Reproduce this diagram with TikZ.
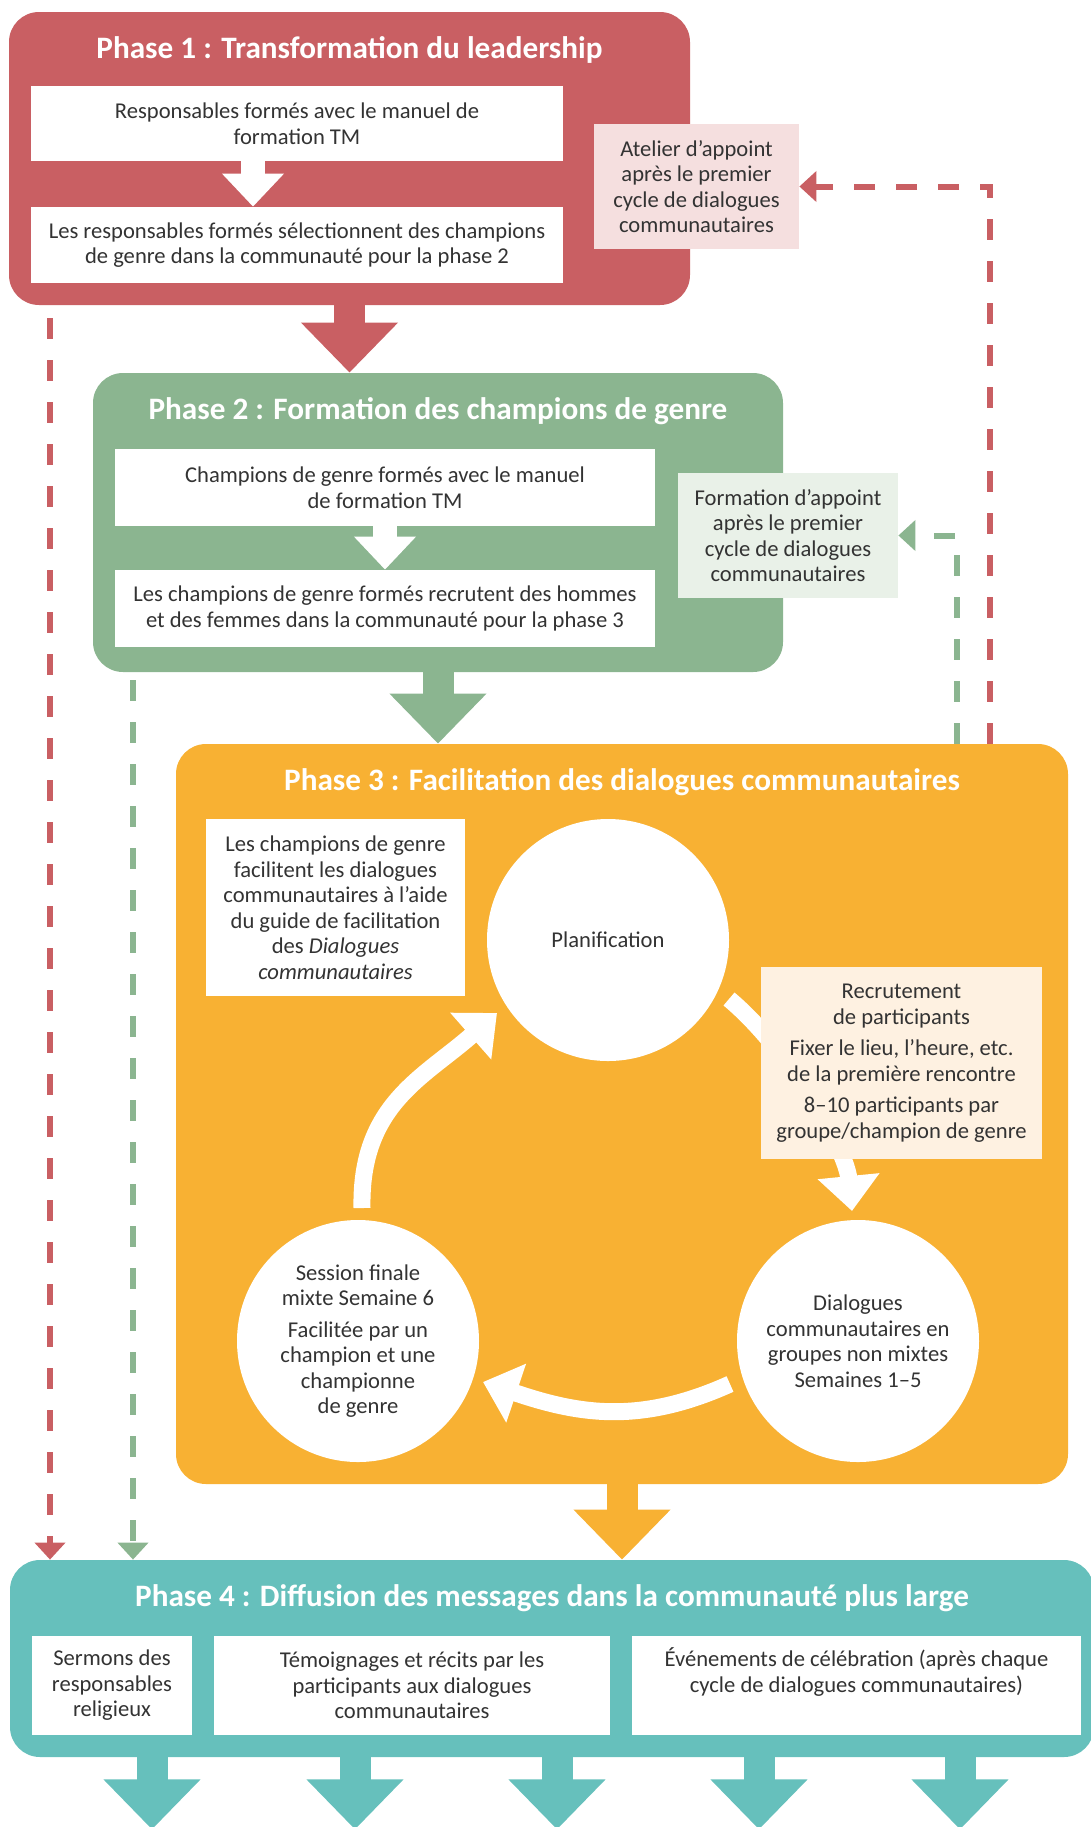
\documentclass[tikz,border=0pt]{standalone}
\usepackage{fontspec}
\setmainfont{Carlito}
\usetikzlibrary{arrows.meta}
\usetikzlibrary{positioning}
\definecolor{phaseRed}{HTML}{C95F63}
\definecolor{phaseGreen}{HTML}{8BB590}
\definecolor{phaseOrange}{HTML}{F8B133}
\definecolor{phaseTeal}{HTML}{66C0BC}
\definecolor{pinkL}{HTML}{F5DFDF}
\definecolor{greenL}{HTML}{E9F1E8}
\definecolor{creamL}{HTML}{FEF1E1}
\definecolor{txtGray}{HTML}{333333}
\tikzset{phase/.style = {rounded corners=15pt, inner sep=0pt}}
\tikzset{phtitle/.style = {text=white, font=\bfseries\fontsize{15.6}{18}\selectfont}}
\tikzset{wbox/.style = {fill=white, inner sep=0pt, align=center, text=txtGray,
                        font=\fontsize{11.3}{12.75}\selectfont}}
\tikzset{p4box/.style = {wbox, minimum height=49.5pt}}
\tikzset{disc/.style = {wbox, circle, minimum size=121pt}}
\tikzset{bigarrow/.style = {line width=15.5pt, -{Triangle[length=25pt, width=47pt]}}}
\tikzset{smallarrow/.style = {white, line width=12pt, -{Triangle[length=16.5pt, width=30pt]}}}
\tikzset{dasharrow/.style = {line width=3pt, dash pattern=on 10.5pt off 10.5pt,
                             -{Triangle[length=8.5pt, width=15pt]}}}
\tikzset{cyclearrow/.style = {white, line width=8.5pt, -{Triangle[length=17.5pt, width=30pt]}}}

\begin{document}
\begin{tikzpicture}[x=0.5pt, y=-0.5pt]
    \clip (0,0) rectangle (1091,1827);
    % phase 1
    \node [phase, fill=phaseRed, minimum width=340.5pt, minimum height=146.5pt] (ph1) at (349.5,158.5) {};
    \node [phtitle, anchor=base] (ph1title) at ([yshift=-23.5pt]ph1.north) {Phase 1 : Transformation du leadership};
    \node [wbox, minimum width=266pt, minimum height=37.5pt] (lead1) at (297,123.5)
        {Responsables formés avec le manuel de\\formation TM};
    \node [wbox, minimum width=266pt, minimum height=38pt] (lead2) at (297,245)
        {Les responsables formés sélectionnent des champions\\de genre dans la communauté pour la phase 2};
    \node [wbox, fill=pinkL, minimum width=102.5pt, minimum height=62.5pt] (atelier) at (696.5,186.5)
        {Atelier d'appoint\\après le premier\\cycle de dialogues\\communautaires};
    \draw [smallarrow] ([xshift=-22pt]lead1.south) -- ([xshift=-22pt]lead2.north);
    % phase 2
    \node [phase, fill=phaseGreen, minimum width=345pt, minimum height=149.5pt] (ph2) at (438,522.5) {};
    \node [phtitle, anchor=base] (ph2title) at ([yshift=-23.5pt]ph2.north) {Phase 2 : Formation des champions de genre};
    \node [wbox, minimum width=270pt, minimum height=38.5pt] (champ1) at (385,487.5)
        {Champions de genre formés avec le manuel\\de formation TM};
    \node [wbox, minimum width=270pt, minimum height=38.5pt] (champ2) at (385,608.5)
        {Les champions de genre formés recrutent des hommes\\et des femmes dans la communauté pour la phase 3};
    \node [wbox, fill=greenL, minimum width=110pt, minimum height=62.5pt] (formation) at (788,535.5)
        {Formation d'appoint\\après le premier\\cycle de dialogues\\communautaires};
    \draw [smallarrow] (champ1.south) -- (champ2.north);
    % phase 3
    \node [phase, fill=phaseOrange, minimum width=446pt, minimum height=370pt] (ph3) at (622,1114) {};
    \node [phtitle, anchor=base] (ph3title) at ([yshift=-23.5pt]ph3.north) {Phase 3 : Facilitation des dialogues communautaires};
    \node [wbox, minimum width=129.5pt, minimum height=88.5pt] (guide) at (335.5,907.5)
        {Les champions de genre\\facilitent les dialogues\\communautaires à l'aide\\du guide de facilitation\\des \textit{Dialogues}\\\textit{communautaires}};
    \coordinate (s1) at (362,1208);
    \coordinate (p1) at (497,1013);
    \coordinate (p2) at (729,999);
    \coordinate (d1) at (852,1211);
    \coordinate (d2) at (730,1384);
    \coordinate (s2) at (483,1382);
    \draw [cyclearrow] (s1) .. controls (360,1105) and (423,1078) .. (p1);
    \draw [cyclearrow] (p2) .. controls (790,1050) and (846,1150) .. (d1);
    \draw [cyclearrow] (d2) .. controls (639,1425) and (578,1414) .. (s2);
    \node [disc] (plan) at (608,940) {Planification};
    \node [disc] (dialog) at (858,1341) {Dialogues\\communautaires en\\groupes non mixtes\\Semaines 1–5};
    \node [disc] (session) at (358,1341)
        {Session finale\\mixte Semaine 6\\[3pt]Facilitée par un\\champion et une\\championne\\de genre};
    \node [wbox, fill=creamL, minimum width=140.5pt, minimum height=96pt] (recrut) at (901.5,1063)
        {Recrutement\\de participants\\[3pt]Fixer le lieu, l'heure, etc.\\de la première rencontre\\[3pt]8–10 participants par\\groupe/champion de genre};
    % phase 4
    \node [phase, fill=phaseTeal, minimum width=542pt, minimum height=98.5pt] (ph4) at (552,1658.5) {};
    \node [phtitle, anchor=base] (ph4title) at ([yshift=-23.5pt]ph4.north) {Phase 4 : Diffusion des messages dans la communauté plus large};
    \node [p4box, minimum width=80pt] (sermon) at (112,1685.5) {Sermons des\\responsables\\religieux};
    \node [p4box, minimum width=198pt] (temoin) at (412,1685.5)
        {Témoignages et récits par les\\participants aux dialogues\\communautaires};
    \node [p4box, minimum width=224.5pt, text depth=15.4pt] (fete) at (856.5,1685.5)
        {Événements de célébration (après chaque\\cycle de dialogues communautaires)};
    % block arrows between phases
    \draw [bigarrow, phaseRed] (ph1.south) -- (ph1.south |- ph2.north);
    \draw [bigarrow, phaseGreen] (ph2.south) -- (ph2.south |- ph3.north);
    \draw [bigarrow, phaseOrange] (ph3.south) -- (ph3.south |- ph4.north);
    \foreach \x in {152,355,557,759,960}
        \draw [bigarrow, phaseTeal] (\x,0 |- ph4.south) -- ++(0,72);
    % dashed links
    \coordinate (redL) at (50,0);
    \coordinate (greenL) at (133,0);
    \coordinate (redR) at (990,0);
    \coordinate (greenR) at (957,0);
    \draw [dasharrow, phaseRed, dash phase=14.5pt] (ph1.south -| redL) -- (ph4.north -| redL);
    \draw [dasharrow, phaseGreen, dash phase=17pt] (ph2.south -| greenL) -- (ph4.north -| greenL);
    \draw [dasharrow, phaseRed] (ph3.north -| redR) |- (atelier.east);
    \draw [dasharrow, phaseGreen] (ph3.north -| greenR) |- (formation.east);
\end{tikzpicture}
\end{document}
